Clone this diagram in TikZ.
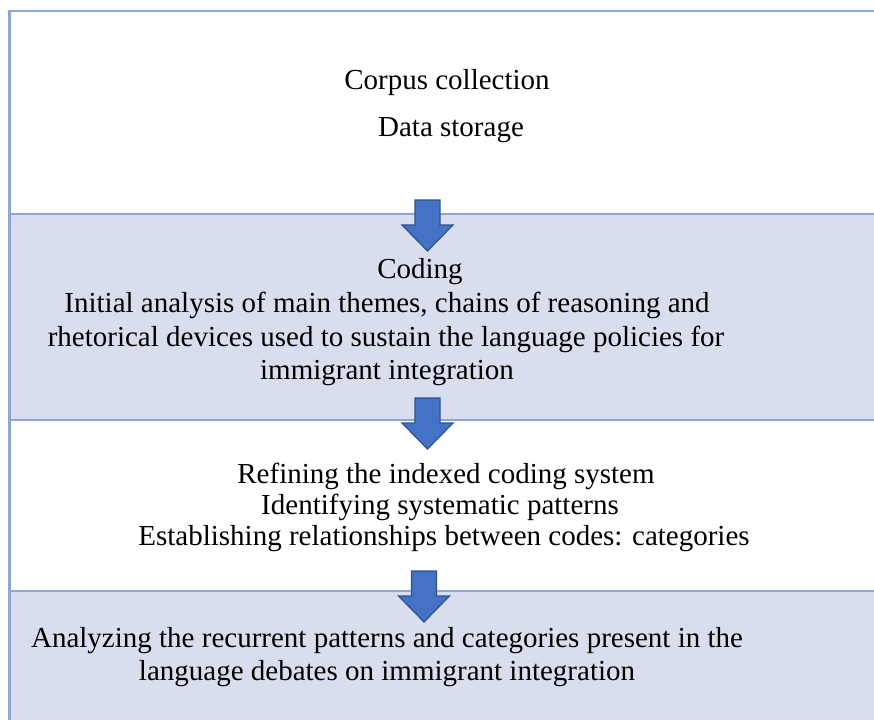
\documentclass[tikz,border=0pt]{standalone}
\usepackage{fontspec}
\setmainfont{Liberation Serif}
\definecolor{rule}{HTML}{8EA5D6}
\definecolor{band}{HTML}{D9DEEE}
\definecolor{arrfill}{HTML}{4472C4}
\definecolor{arrline}{HTML}{2F528F}
\tikzset{
  txt/.style={anchor=base, inner sep=0pt, font=\fontsize{29}{32}\selectfont},
  rulepen/.style={draw=rule, line width=2.5pt},
  blockarrow/.style={fill=arrfill, draw=arrline, line width=1.2pt, line join=miter},
}
\newcommand\blockarr[2]{%
  \draw[blockarrow] (#1-12.5,#2) -- (#1+12.5,#2) -- (#1+12.5,#2+25) -- (#1+25.5,#2+25)
    -- (#1,#2+51) -- (#1-25.5,#2+25) -- (#1-12.5,#2+25) -- cycle;}
\begin{document}
\begin{tikzpicture}[x=1pt,y=-1pt]
\useasboundingbox (0,0) rectangle (874,720);
% bands
\fill[band] (9.5,214) rectangle (874,420);
\fill[band] (9.5,591) rectangle (874,720);
% rules
\draw[rulepen] (874,11) -- (9.5,11) -- (9.5,720);
\draw[rulepen] (9.5,214) -- (874,214);
\draw[rulepen] (9.5,420) -- (874,420);
\draw[rulepen] (9.5,591) -- (874,591);
% texts
\node[txt] (t1) at (447,89) {Corpus collection};
\node[txt] (t2) at (451,136) {Data storage};
\node[txt] (t3) at (420,278) {Coding};
\node[txt] (t4) at (387,312) {Initial analysis of main themes, chains of reasoning and};
\node[txt] (t5) at (386,346) {rhetorical devices used to sustain the language policies for};
\node[txt] (t6) at (387,379) {immigrant integration};
\node[txt] (t7) at (446,483) {Refining the indexed coding system};
\node[txt] (t8) at (440,514) {Identifying systematic patterns};
\node[txt] (t9) at (444,545) {Establishing relationships between codes: categories};
\node[txt] (t10) at (387,647) {Analyzing the recurrent patterns and categories present in the};
\node[txt] (t11) at (387,680) {language debates on immigrant integration};
% arrows
\blockarr{427.5}{200}
\blockarr{427.5}{398}
\blockarr{424}{571}
\end{tikzpicture}
\end{document}
